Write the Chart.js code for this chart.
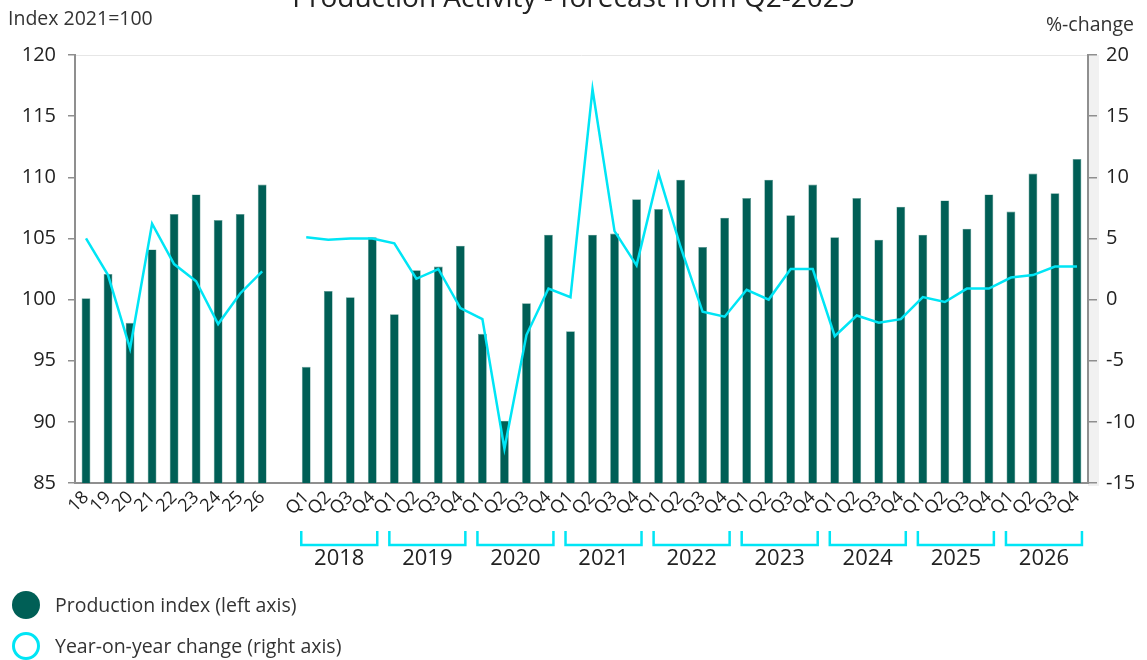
<!DOCTYPE html>
<html>
<head>
<meta charset="utf-8">
<script src="https://cdn.jsdelivr.net/npm/chart.js@4"></script>
<style>
  html, body { margin: 0; padding: 0; background: #fff; }
  #wrap { position: relative; width: 1147px; height: 660px; overflow: hidden; font-family: "Open Sans", sans-serif; color: #222; }
  #c { position: absolute; left: 0; top: 0; }
  .title { position: absolute; left: 0; width: 1147px; text-align: center; top: -18px; font-size: 28px; line-height: 28px; color: #222; }
  .unitL { position: absolute; left: 8px; top: 5px; font-size: 19.5px; line-height: 26px; color: #333; }
  .unitR { position: absolute; right: 13px; top: 11px; font-size: 19.5px; line-height: 26px; color: #333; }
  .leg { position: absolute; left: 12px; font-size: 19.5px; line-height: 28px; color: #333; }
  .leg .sw { position: absolute; left: 0; top: 0; width: 28px; height: 28px; border-radius: 50%; box-sizing: border-box; }
  .leg span.t { position: absolute; left: 43px; top: 0; white-space: nowrap; }
</style>
</head>
<body>
<div id="wrap">
  <canvas id="c" width="1147" height="660"></canvas>
  <div class="title">Production Activity - forecast from Q2-2025</div>
  <div class="unitL">Index 2021=100</div>
  <div class="unitR">%-change</div>
  <div class="leg" style="top:591px;"><div class="sw" style="background:#005f56;"></div><span class="t">Production index (left axis)</span></div>
  <div class="leg" style="top:632px;"><div class="sw" style="border:3px solid #00e5f5;"></div><span class="t">Year-on-year change (right axis)</span></div>
</div>
<script>
// ---- data ----
const annualLabels = ['18','19','20','21','22','23','24','25','26'];
const annualIndex  = [100.1, 102.1, 98.1, 104.1, 107.0, 108.6, 106.5, 107.0, 109.4];
const annualYoY    = [5.0, 2.0, -4.0, 6.2, 2.9, 1.5, -2.0, 0.5, 2.3];

const years = ['2018','2019','2020','2021','2022','2023','2024','2025','2026'];
const quarterNames = ['Q1','Q2','Q3','Q4'];
const quarterIndex = [
  94.5, 100.7, 100.2, 105.1,
  98.8, 102.4, 102.7, 104.4,
  97.2,  90.1,  99.7, 105.3,
  97.4, 105.3, 105.4, 108.2,
  107.4, 109.8, 104.3, 106.7,
  108.3, 109.8, 106.9, 109.4,
  105.1, 108.3, 104.9, 107.6,
  105.3, 108.1, 105.8, 108.6,
  107.2, 110.3, 108.7, 111.5
];
const quarterYoY = [
  5.1, 4.9, 5.0, 5.0,
  4.6, 1.7, 2.5, -0.7,
  -1.6, -12.2, -2.9, 0.9,
  0.2, 17.2, 5.6, 2.8,
  10.3, 4.3, -1.0, -1.4,
  0.8, 0.0, 2.5, 2.5,
  -3.0, -1.3, -1.9, -1.6,
  0.2, -0.2, 0.9, 0.9,
  1.8, 2.0, 2.7, 2.7
];

// ---- build ----
const quarterLabels = [];
years.forEach(() => quarterNames.forEach(q => quarterLabels.push(q)));
const labels = annualLabels.concat([''], quarterLabels);
const indexData = annualIndex.concat([null], quarterIndex);
const yoyData = annualYoY.concat([null], quarterYoY);
const firstQuarterIdx = annualLabels.length + 1;

const FONT = '"Open Sans", sans-serif';
const AXIS = '#8f8f8f';

const decor = {
  id: 'decor',
  beforeDraw(chart) {
    const ctx = chart.ctx, a = chart.chartArea;
    ctx.save();
    ctx.fillStyle = '#f1f1f1';
    ctx.fillRect(a.right, a.top, 11, a.bottom - a.top + 3);
    ctx.strokeStyle = '#e6e6e6';
    ctx.lineWidth = 1;
    ctx.beginPath();
    ctx.moveTo(a.left, a.top + 0.5);
    ctx.lineTo(a.right, a.top + 0.5);
    ctx.stroke();
    ctx.restore();
  },
  afterDraw(chart) {
    const ctx = chart.ctx, x = chart.scales.x;
    ctx.save();
    ctx.strokeStyle = '#00e5f5';
    ctx.lineWidth = 2.5;
    ctx.fillStyle = '#222';
    ctx.font = '22px ' + FONT;
    ctx.textAlign = 'center';
    ctx.textBaseline = 'middle';
    years.forEach((y, i) => {
      const i0 = firstQuarterIdx + i * 4;
      const c = (x.getPixelForValue(i0) + x.getPixelForValue(i0 + 3)) / 2;
      const l = c - 38, r = c + 38;
      const top = 531, bot = 545;
      ctx.beginPath();
      ctx.moveTo(l, top);
      ctx.lineTo(l, bot);
      ctx.lineTo(r, bot);
      ctx.lineTo(r, top);
      ctx.stroke();
      ctx.fillText(y, c, 559);
    });
    ctx.restore();
  }
};

new Chart(document.getElementById('c'), {
  data: {
    labels: labels,
    datasets: [
      {
        type: 'line',
        label: 'Year-on-year change (right axis)',
        data: yoyData,
        yAxisID: 'y1',
        borderColor: '#00e5f5',
        borderWidth: 2.5,
        pointRadius: 0,
        tension: 0,
        spanGaps: false,
        order: 0
      },
      {
        type: 'bar',
        label: 'Production index (left axis)',
        data: indexData,
        yAxisID: 'y',
        backgroundColor: '#005f56',
        borderColor: '#5f9a93',
        borderWidth: 0.6,
        barPercentage: 0.4,
        categoryPercentage: 1.0,
        order: 1
      }
    ]
  },
  options: {
    responsive: false,
    animation: false,
    layout: { padding: { top: 55, left: 0, right: 0, bottom: 0 } },
    plugins: { legend: { display: false }, tooltip: { enabled: false }, title: { display: false } },
    scales: {
      x: {
        offset: true,
        grid: { display: false, drawTicks: false },
        border: { display: true, color: AXIS, width: 2 },
        ticks: { autoSkip: false, minRotation: 45, maxRotation: 45, color: '#222', font: { family: FONT, size: 18 }, padding: 4 },
        afterFit(s) { s.height = 660 - 483; }
      },
      y: {
        position: 'left',
        min: 85, max: 120,
        ticks: { stepSize: 5, color: '#222', font: { family: FONT, size: 20 }, padding: 12 },
        grid: { drawOnChartArea: false, drawTicks: true, tickLength: 7, color: AXIS, lineWidth: 1.5 },
        border: { display: true, color: AXIS, width: 2 },
        afterFit(s) { s.width = 75; }
      },
      y1: {
        position: 'right',
        min: -15, max: 20,
        ticks: { stepSize: 5, color: '#222', font: { family: FONT, size: 20 }, padding: 9 },
        grid: { drawOnChartArea: false, drawTicks: true, tickLength: 9, color: AXIS, lineWidth: 1.5 },
        border: { display: true, color: AXIS, width: 2 },
        afterFit(s) { s.width = 1147 - 1088; }
      }
    }
  },
  plugins: [decor]
});
</script>
</body>
</html>
